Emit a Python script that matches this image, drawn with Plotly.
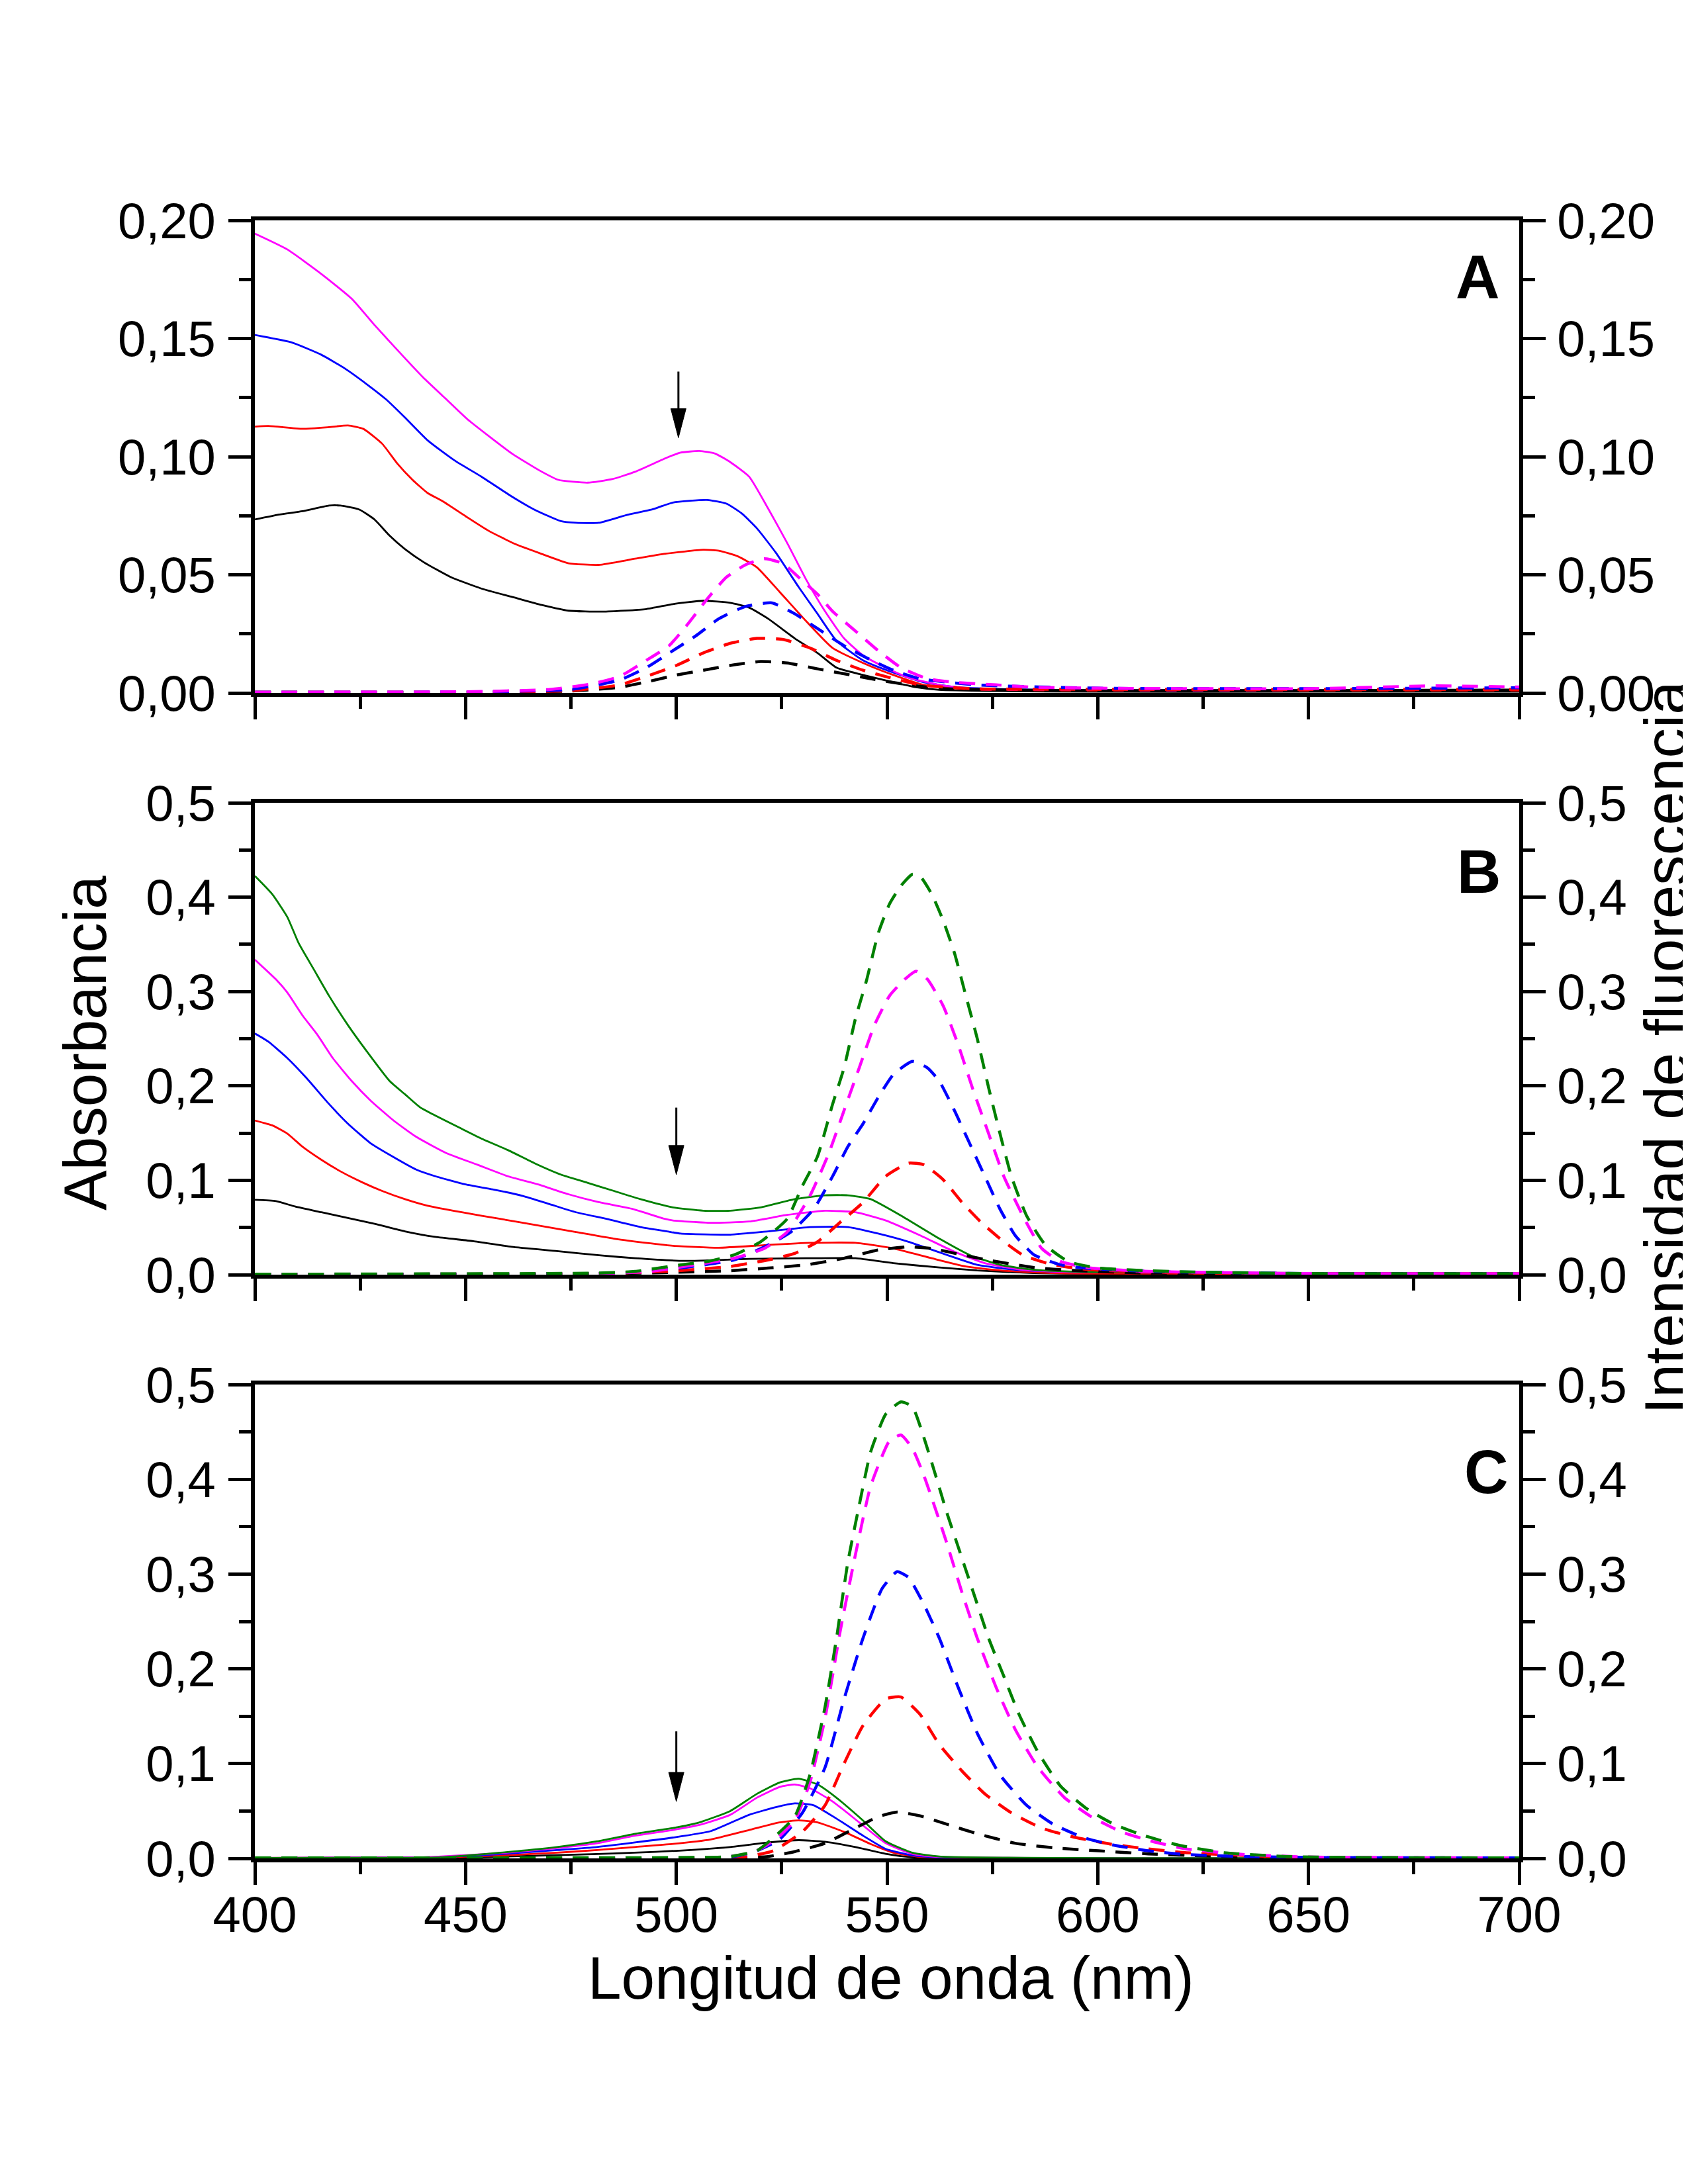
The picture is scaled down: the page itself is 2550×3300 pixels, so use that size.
import plotly.graph_objects as go
from plotly.subplots import make_subplots

# ---------------- DATA ----------------
# Panel A : absorbance (solid) and fluorescence (dashed)
A_abs_black_x = [400,405.9,411.3,417.6,420.3,424.8,428.4,432,435.6,440.1,446.4,453.7,460.9,468.1,474.4,482.5,492.9,499.2,506.4,512.8,517.3,521.8,528.1,533.5,538,544.3,551.5,556.9,562.4,575,600,650,700]
A_abs_black_y = [0.0734,0.0755,0.0769,0.0793,0.0793,0.0776,0.0734,0.0665,0.0609,0.0553,0.0491,0.0442,0.0407,0.0372,0.0348,0.0344,0.0355,0.0376,0.039,0.0381,0.0361,0.0314,0.0231,0.0169,0.0107,0.0076,0.0045,0.0024,0.0013,0.0008,0.0005,0.0005,0.0005]
A_abs_red_x = [400,403.2,411.3,417.6,422.1,425.7,430.2,433.8,437.4,441,444.6,450,455.5,461.8,468.1,474.4,481.6,490.2,497.4,506.4,510.1,514.6,519.1,524.5,530.8,537.1,544.3,551.5,558.7,570,600,650,700]
A_abs_red_y = [0.1127,0.113,0.1118,0.1125,0.1132,0.1118,0.1055,0.0971,0.0902,0.0846,0.0811,0.0748,0.0686,0.063,0.0588,0.0549,0.0542,0.0568,0.0589,0.0606,0.0602,0.0578,0.0532,0.0428,0.0304,0.019,0.0127,0.0076,0.0034,0.0015,0.001,0.001,0.001]
A_abs_blue_x = [400,408.6,415.8,421.2,426.6,431.1,435.6,441,447.3,453.7,460.9,466.3,472.6,476.2,481.6,488.4,494.2,499.2,507.3,511.9,515.5,519.1,523.6,529,533.5,538,544.3,551.5,558.7,566.9,580,600,650,700]
A_abs_blue_y = [0.1515,0.1484,0.1431,0.1375,0.1306,0.1243,0.1166,0.1069,0.0985,0.0916,0.0832,0.0776,0.0727,0.072,0.072,0.0754,0.0776,0.0806,0.0817,0.0801,0.076,0.0697,0.0594,0.0449,0.0335,0.0221,0.0138,0.0086,0.0045,0.0024,0.0015,0.0012,0.0012,0.0012]
A_abs_mag_x = [400,407.7,415.8,423,428.4,435.6,440,445,450.4,455.8,461,467.4,472,479,484.8,490.2,497.4,501,505.5,509.2,512.8,517.3,521.8,526.3,530.8,535.3,539.8,544.3,549.7,555.1,562.4,571.4,600,650,700]
A_abs_mag_y = [0.1944,0.1877,0.1773,0.1668,0.1557,0.1417,0.1334,0.125,0.1159,0.1083,0.1013,0.0943,0.0902,0.089,0.0905,0.0936,0.0993,0.1017,0.1024,0.1013,0.0977,0.0915,0.078,0.0635,0.048,0.0345,0.0231,0.0159,0.0107,0.0065,0.0034,0.0016,0.0012,0.0012,0.0012]

A_fl_black_x = [400,450,475,486.6,493.8,500.1,506.4,513.7,520,526.3,533.5,539.8,546.1,553.3,562.4,580,600,650,700]
A_fl_black_y = [0.0003,0.0003,0.0008,0.0024,0.005,0.0076,0.0096,0.0119,0.0133,0.0127,0.0102,0.0081,0.006,0.0039,0.0019,0.0012,0.001,0.001,0.0012]
A_fl_red_x = [400,450,475,486.6,492.9,500.1,506.4,512.8,519.1,525.4,531.7,538,544.3,550.6,557.8,570,600,650,700]
A_fl_red_y = [0.0003,0.0003,0.001,0.0034,0.007,0.0117,0.0169,0.021,0.0231,0.0226,0.019,0.0138,0.0096,0.0065,0.0034,0.0018,0.0015,0.0015,0.0015]
A_fl_blue_x = [400,450,475,486.6,492.9,499.2,504.6,510.1,516.4,522.7,528.1,534.4,539.8,545.2,551.5,557.8,571.4,600,650,700]
A_fl_blue_y = [0.0003,0.0004,0.0015,0.0055,0.0107,0.0179,0.0241,0.0314,0.0366,0.0381,0.0335,0.0262,0.02,0.0148,0.0096,0.006,0.0034,0.002,0.0018,0.0022]
A_fl_mag_x = [400,450,470,479.8,486.6,492.9,498.3,502.8,507.3,511.9,516.4,520.9,525.4,529,533.5,537.1,542.5,547.9,553.3,559.6,566,575.9,584.9,600,650,680,700]
A_fl_mag_y = [0.0003,0.0005,0.0015,0.0038,0.007,0.0138,0.02,0.0293,0.0397,0.049,0.0542,0.0568,0.0547,0.049,0.0418,0.0345,0.0262,0.0179,0.0107,0.006,0.0045,0.0034,0.0024,0.002,0.0018,0.003,0.0025]

# Panel B
B_abs_black_x = [400,405,409.5,415.8,423,428.4,435.6,442.8,451.8,460.9,471.7,482.5,490.2,501.9,517.3,530.8,542.5,551.5,562.4,571.4,584.9,600,650,700]
B_abs_black_y = [0.0793,0.0779,0.0723,0.0661,0.0591,0.0539,0.0459,0.04,0.0355,0.0296,0.025,0.0202,0.0174,0.0146,0.0167,0.0174,0.0174,0.0122,0.0076,0.0045,0.0017,0.001,0.001,0.001]
B_abs_red_x = [400,404.1,407.7,411.3,415.8,420.3,425.7,430.2,435.6,441,449.1,458.2,467.2,476.2,485.2,494.2,499.2,510,520.9,531.7,542.5,551.5,560.6,568.7,576.8,589.4,600,650,700]
B_abs_red_y = [0.1634,0.1582,0.1495,0.1356,0.1217,0.1095,0.0974,0.0887,0.08,0.073,0.0661,0.0591,0.0522,0.0452,0.0382,0.033,0.0306,0.0285,0.0313,0.0337,0.0337,0.0278,0.0174,0.0087,0.0045,0.0017,0.0012,0.001,0.001]
B_abs_blue_x = [400,403.2,407.7,412.2,417.6,422.1,427.5,432,438.3,442.8,450,456.4,463.6,469.9,476.2,483.4,491.5,497.8,501,512.8,521.8,531.7,540.7,547.9,555.1,564.2,571.4,580.4,593.9,650,700]
B_abs_blue_y = [0.2556,0.2469,0.2295,0.2086,0.1808,0.1599,0.1391,0.1269,0.1113,0.1043,0.0956,0.0904,0.0834,0.0748,0.0661,0.0591,0.0504,0.0459,0.0435,0.0424,0.0459,0.0504,0.0504,0.0435,0.0348,0.0209,0.0104,0.0052,0.0028,0.0015,0.0012]
B_abs_mag_x = [400,405,407.7,411.3,414.9,418.5,423,427.5,432.9,438.3,445.5,452.8,460,467.2,474.4,481.4,489.7,496.9,499.2,508.2,517.3,526.3,535.3,542.5,549.7,557.8,566,573.2,582.2,593.9,650,700]
B_abs_mag_y = [0.3338,0.3129,0.299,0.2747,0.2538,0.2295,0.2051,0.1843,0.1634,0.146,0.1287,0.1165,0.1043,0.0956,0.0852,0.077,0.0695,0.0595,0.0574,0.0549,0.0563,0.0633,0.0678,0.0661,0.0574,0.0417,0.0243,0.0122,0.0052,0.0028,0.0015,0.0012]
B_abs_green_x = [400,404.1,407.7,410.4,414,417.6,422.1,426.6,432,435.6,439.2,442.8,448.2,453.7,460,466.3,472.6,478.9,485.2,491.5,499.2,506.4,512.8,520,528.1,535.3,540.7,546.1,553.3,562.4,569.6,576.8,584.9,598.4,650,700]
B_abs_green_y = [0.4225,0.4033,0.379,0.3512,0.3234,0.2955,0.2643,0.2364,0.2051,0.1912,0.1773,0.1686,0.1565,0.1443,0.1321,0.1182,0.1061,0.0974,0.0887,0.08,0.0713,0.0678,0.0678,0.0713,0.08,0.0841,0.0841,0.08,0.0626,0.0382,0.0209,0.0104,0.0052,0.0028,0.0018,0.0015]

B_fl_black_x = [400,480,500,512.8,521.8,530.8,539.8,547.9,555.1,560.6,567.8,575,584.9,593.9,610,650,700]
B_fl_black_y = [0.0005,0.001,0.0025,0.0042,0.007,0.0104,0.0174,0.0261,0.0296,0.0278,0.0209,0.0146,0.0076,0.0045,0.002,0.001,0.001]
B_fl_red_x = [400,480,500,512.8,521.8,528.1,533.5,538.9,544.3,549.7,555.1,558.7,563.3,567.8,572.3,576.8,582.2,589.4,598.4,620,650,700]
B_fl_red_y = [0.0005,0.001,0.004,0.0087,0.0156,0.0226,0.0348,0.0556,0.0765,0.1043,0.1182,0.1165,0.1008,0.0765,0.0556,0.0382,0.0209,0.0104,0.0052,0.002,0.001,0.001]
B_fl_blue_x = [400,480,490,501.9,513.7,521.8,527.2,532.6,537.1,540.7,544.3,547.9,551.5,556,559.6,562.4,566,569.6,573.2,576.8,580.4,584.9,591.2,598.4,612,650,700]
B_fl_blue_y = [0.0005,0.001,0.003,0.0076,0.0156,0.0313,0.0452,0.0695,0.1043,0.1356,0.1599,0.1878,0.2121,0.226,0.2191,0.2051,0.1739,0.1391,0.1043,0.0695,0.0417,0.0209,0.0104,0.0063,0.0035,0.0012,0.001]
B_fl_mag_x = [400,481.2,493.8,501.9,513.7,520.9,526.3,531.7,536.2,539.8,543.4,547,550.6,554.2,556.9,559.6,563.3,566.9,570.5,574.1,577.7,582.2,586.7,591.2,598.4,612,650,700]
B_fl_mag_y = [0.0005,0.001,0.0035,0.0087,0.0174,0.0278,0.0452,0.0834,0.1287,0.1739,0.2191,0.2643,0.2955,0.3129,0.3216,0.3129,0.2851,0.2434,0.1947,0.1495,0.1043,0.0626,0.0278,0.0139,0.007,0.0035,0.0012,0.001]
B_fl_green_x = [400,481.2,490.2,501,507.3,513.7,520,526.3,529.9,533.5,537.1,539.8,542.5,545.2,547.9,550.6,553.3,556,557.8,560.6,563.3,566,568.7,571.4,574.1,576.8,579.5,583.1,587.6,593,600.2,612,622.6,650,700]
B_fl_green_y = [0.0005,0.0017,0.0035,0.0104,0.0139,0.0209,0.0348,0.0591,0.0939,0.1252,0.1808,0.2191,0.2712,0.3129,0.3616,0.3929,0.412,0.4242,0.4225,0.4033,0.3755,0.3408,0.2955,0.2503,0.1982,0.1495,0.1043,0.0626,0.0313,0.0139,0.007,0.0042,0.0028,0.0012,0.001]

# Panel C
C_abs_black_x = [400,450,480,490,500,512.8,521.8,529,535.3,542.5,549.7,556,565,600,650,700]
C_abs_black_y = [0.0005,0.001,0.0045,0.006,0.008,0.012,0.0168,0.0192,0.0176,0.012,0.0048,0.0012,0.0005,0.0005,0.0005,0.0005]
C_abs_red_x = [400,440,458,471.7,481.2,490.2,499.2,508.2,517.3,524.5,529,533.5,539.8,546.1,551.5,557.8,570,700]
C_abs_red_y = [0.0005,0.0008,0.003,0.006,0.0088,0.012,0.0152,0.02,0.03,0.038,0.04,0.038,0.028,0.0152,0.006,0.0016,0.0005,0.0005]
C_abs_blue_x = [400,440,458,471.7,481.2,490.2,499.2,508.2,517.3,523.6,528.1,532.6,538,544.3,549.7,556,562.4,700]
C_abs_blue_y = [0.0005,0.001,0.0045,0.0088,0.012,0.0168,0.022,0.0288,0.046,0.054,0.058,0.056,0.042,0.024,0.01,0.0032,0.001,0.0005]
C_abs_mag_x = [400,440,458,471.7,481.2,490.2,499.2,505.5,512.8,519.1,524.5,528.1,531.7,537.1,543.4,549.7,556,562.4,700]
C_abs_mag_y = [0.0005,0.0012,0.0055,0.011,0.016,0.024,0.03,0.0353,0.046,0.064,0.0753,0.078,0.074,0.06,0.038,0.016,0.0048,0.0016,0.0005]
C_abs_green_x = [400,444.6,458.2,471.7,481.2,490.2,499.2,505.5,512.8,519.1,524.5,529,533.5,538,544.3,549.7,556,562.4,700]
C_abs_green_y = [0.0005,0.0012,0.006,0.012,0.018,0.026,0.032,0.038,0.05,0.068,0.08,0.084,0.078,0.064,0.04,0.018,0.006,0.002,0.0005]

C_fl_black_x = [400,510,521.8,528.1,535.3,542.5,547.9,552.4,557.8,564.2,571.4,580.4,589.4,600.2,612,621,635,650,700]
C_fl_black_y = [0.0005,0.0008,0.002,0.0072,0.016,0.032,0.044,0.0489,0.0449,0.036,0.026,0.016,0.0112,0.008,0.0048,0.0032,0.0015,0.0008,0.0005]
C_fl_red_x = [400,515,523,529.9,535.3,539.8,544.3,549.7,553.3,557.8,562.4,567.8,573.2,579.5,586.7,594.8,602.9,611.9,621,635,650,700]
C_fl_red_y = [0.0005,0.001,0.008,0.028,0.056,0.1,0.1402,0.1683,0.1703,0.1522,0.1202,0.0921,0.0681,0.0481,0.032,0.022,0.0152,0.01,0.006,0.003,0.001,0.0005]
C_fl_blue_x = [400,512,518,524.5,529.9,535.3,539.8,544.3,548.8,552.4,555.1,558.7,562.4,566.9,571.4,576.8,583.1,589.4,596.6,603.8,612,621,635,650,700]
C_fl_blue_y = [0.0005,0.001,0.006,0.02,0.048,0.096,0.168,0.2324,0.2845,0.3025,0.2965,0.2684,0.2324,0.1803,0.1322,0.0881,0.0561,0.0361,0.022,0.014,0.008,0.004,0.002,0.001,0.0005]
C_fl_mag_x = [400,510,518,523.6,528.1,531.7,535.3,538.9,542.5,546.1,550.6,553.3,556,558.7,561.5,564.2,567.8,571.4,575.9,580.4,585.8,592.1,598.4,605.6,612.9,621,635,650,700]
C_fl_mag_y = [0.0005,0.001,0.006,0.02,0.04,0.08,0.148,0.24,0.3205,0.3926,0.4407,0.4467,0.4327,0.4046,0.3686,0.3325,0.2804,0.2324,0.1803,0.1362,0.0962,0.0641,0.0441,0.028,0.018,0.01,0.004,0.0015,0.0005]
C_fl_green_x = [400,505,512.8,519.1,523.6,528.1,531.7,535.3,538,540.7,543.4,546.1,549.7,553.3,556,558.7,561.5,564.2,566.9,570.5,574.1,577.7,581.3,585.8,591.2,597.5,603.8,611,619.2,630,645,660,700]
C_fl_green_y = [0.0005,0.001,0.002,0.008,0.024,0.044,0.088,0.16,0.232,0.3125,0.3726,0.4287,0.4688,0.4816,0.4768,0.4447,0.4046,0.3646,0.3285,0.2804,0.2324,0.1923,0.1522,0.1122,0.0761,0.0521,0.0361,0.024,0.014,0.006,0.002,0.001,0.0005]

# Axis settings / labels
X_RANGE = [400, 700]
X_TICKS = [400, 450, 500, 550, 600, 650, 700]
Y_RANGES = {"A": [0, 0.20], "B": [0, 0.5], "C": [0, 0.5]}
Y_DTICK = {"A": 0.05, "B": 0.1, "C": 0.1}
Y_FMT = {"A": ".2f", "B": ".1f", "C": ".1f"}
PANEL_LABELS = ["A", "B", "C"]
# arrows: (panel, x, y_tail, y_tip)
ARROWS = [("A", 500.5, 0.136, 0.108), ("B", 500, 0.177, 0.106), ("C", 500, 0.134, 0.060)]

COLORS = {"black": "#000000", "red": "#FF0000", "blue": "#0000FF", "mag": "#FF00FF", "green": "#008000"}

FONT = "Liberation Sans, Arial, sans-serif"

# ---------------- FIGURE ----------------
fig = make_subplots(rows=3, cols=1, specs=[[{"secondary_y": True}]] * 3)

data = globals()
row_of = {"A": 1, "B": 2, "C": 3}
for p in PANEL_LABELS:
    for c in ["black", "red", "blue", "mag", "green"]:
        kx, ky = f"{p}_abs_{c}_x", f"{p}_abs_{c}_y"
        if kx in data:
            fig.add_trace(go.Scatter(x=data[kx], y=data[ky], mode="lines",
                                     line=dict(color=COLORS[c], width=2.8, shape="spline", smoothing=0.5),
                                     showlegend=False, cliponaxis=True),
                          row=row_of[p], col=1, secondary_y=False)
    for c in ["black", "red", "blue", "mag", "green"]:
        kx, ky = f"{p}_fl_{c}_x", f"{p}_fl_{c}_y"
        if kx in data:
            fig.add_trace(go.Scatter(x=data[kx], y=data[ky], mode="lines",
                                     line=dict(color=COLORS[c], width=4.5, dash="24px,16px",
                                               shape="spline", smoothing=0.5),
                                     showlegend=False, cliponaxis=True),
                          row=row_of[p], col=1, secondary_y=True)

# Layout geometry (pixels of the 2550x3300 page)
W, H = 2550, 3300
DY = -5
L, R, T, B = 377, 263, 330 + DY, 495 - DY
plot_h = H - T - B
def ydom(top_px, bot_px):
    top_px += DY
    bot_px += DY
    return [1 - (bot_px - T) / plot_h, 1 - (top_px - T) / plot_h]
domains = {"A": ydom(330, 1044), "B": ydom(1210, 1923), "C": ydom(2089, 2805)}

tickfont = dict(family=FONT, size=76, color="black")
LW = 6
for i, p in enumerate(PANEL_LABELS):
    xname = "xaxis" if i == 0 else f"xaxis{i+1}"
    yl = "yaxis" if i == 0 else f"yaxis{2*i+1}"
    yr = f"yaxis{2*i+2}"
    fig.layout[xname].update(
        domain=[0, 1],
        range=X_RANGE, tickmode="array", tickvals=X_TICKS, showgrid=False, zeroline=False,
        showline=True, linecolor="black", linewidth=LW, mirror=True,
        ticks="outside", ticklen=34, tickwidth=5, tickcolor="black",
        minor=dict(ticks="outside", ticklen=18, tickwidth=5, tickcolor="black", dtick=25, tick0=400, showgrid=False),
        showticklabels=(p == "C"), tickfont=tickfont, ticklabelstandoff=-20,
    )
    common_y = dict(range=Y_RANGES[p], dtick=Y_DTICK[p], tick0=0, tickformat=Y_FMT[p],
                    showgrid=False, zeroline=False, showline=True, linecolor="black", linewidth=LW,
                    ticks="outside", ticklen=34, tickwidth=5, tickcolor="black",
                    minor=dict(ticks="outside", ticklen=18, tickwidth=5, tickcolor="black",
                               dtick=Y_DTICK[p] / 2, tick0=0, showgrid=False),
                    tickfont=tickfont, domain=domains[p], ticklabelstandoff=4)
    fig.layout[yl].update(**common_y)
    fig.layout[yr].update(**common_y)
    fig.layout[yr].update(side="right", ticklabelstandoff=2)

# Arrows (line + filled head)
yref_of = {"A": "y", "B": "y3", "C": "y5"}
xref_of = {"A": "x", "B": "x2", "C": "x3"}
px_per_nm = (W - L - R) / 300.0
for p, xa, yt, yh in ARROWS:
    y0, y1 = domains[p]
    px_per_unit = (y1 - y0) * plot_h / (Y_RANGES[p][1] - Y_RANGES[p][0])
    head_len = 44 / px_per_unit
    half_w = 11.5 / px_per_nm
    fig.add_shape(type="line", xref=xref_of[p], yref=yref_of[p], x0=xa, x1=xa, y0=yt, y1=yh + head_len * 0.5,
                  line=dict(color="black", width=3))
    fig.add_shape(type="path", xref=xref_of[p], yref=yref_of[p],
                  path=f"M {xa - half_w},{yh + head_len} L {xa + half_w},{yh + head_len} L {xa},{yh} Z",
                  fillcolor="black", line=dict(color="black", width=1))

def px_to_paper(px, py):
    return (px - L) / (W - L - R), 1 - (py - T) / plot_h

# Panel letters
label_pos = {"A": (2224, 410), "B": (2226, 1309), "C": (2237, 2216)}
for p in PANEL_LABELS:
    ax_, ay_ = px_to_paper(*label_pos[p])
    fig.add_annotation(x=ax_, y=ay_, xref="paper", yref="paper",
                       text=f"<b>{p}</b>", showarrow=False, xanchor="center", yanchor="middle",
                       font=dict(family=FONT, size=92, color="black"))

# Axis titles
title_font = dict(family=FONT, size=91, color="black")
tx, ty = px_to_paper(1338, 2980)
fig.add_annotation(x=tx, y=ty, xref="paper", yref="paper",
                   text="Longitud de onda (nm)", showarrow=False, xanchor="center", yanchor="middle",
                   font=title_font)
tx, ty = px_to_paper(120, 1568)
fig.add_annotation(x=tx, y=ty, xref="paper", yref="paper",
                   text="Absorbancia", showarrow=False, textangle=-90, xanchor="center", yanchor="middle",
                   font=title_font)
tx, ty = px_to_paper(2508, 1575)
fig.add_annotation(x=tx, y=ty, xref="paper", yref="paper",
                   text="Intensidad de fluorescencia", showarrow=False, textangle=-90,
                   xanchor="center", yanchor="middle", font=title_font)

fig.update_layout(width=W, height=H, margin=dict(l=L, r=R, t=T, b=B, autoexpand=False),
                  paper_bgcolor="white", plot_bgcolor="white", separators=", ",
                  showlegend=False, font=dict(family=FONT, color="black"))

fig.write_html("out.html")
